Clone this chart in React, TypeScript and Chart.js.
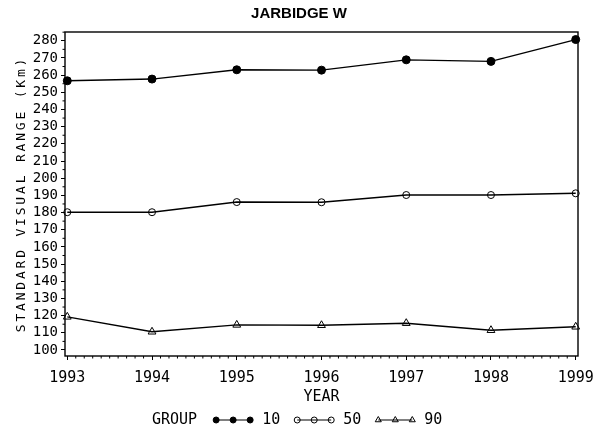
import { useEffect, useRef } from 'react'
import { Chart, registerables } from 'chart.js'
import { drawPoint } from 'chart.js/helpers'

Chart.register(...registerables)

// values
const years = [1993, 1994, 1995, 1996, 1997, 1998, 1999]
const group10 = [256.7, 257.7, 263.1, 262.9, 268.9, 268.0, 280.7]
const group50 = [180.2, 180.2, 186.1, 186.0, 190.2, 190.2, 191.2]
const group90 = [119.3, 110.6, 114.6, 114.4, 115.6, 111.5, 113.5]
const groupNames = ['10', '50', '90']
const yTicks = [100, 110, 120, 130, 140, 150, 160, 170, 180, 190, 200, 210, 220, 230, 240, 250, 260, 270, 280]

const MONO = "'DejaVu Sans Mono', monospace"

// title, minor ticks, frame, rotated y title and the "GROUP" legend row
const sasDecor = {
  id: 'sasDecor',
  afterDraw(chart: any) {
    const { ctx, chartArea: a, scales } = chart
    const xs = scales.x
    const ys = scales.y
    ctx.save()
    ctx.strokeStyle = '#000'
    ctx.fillStyle = '#000'

    ctx.font = "bold 15px 'Liberation Sans', Arial, sans-serif"
    ctx.textAlign = 'center'
    ctx.textBaseline = 'middle'
    ctx.fillText('JARBIDGE W', 299, 14)

    ctx.lineWidth = 1
    ctx.beginPath()
    for (let i = 0; i < years.length - 1; i++) {
      for (let k = 1; k < 10; k++) {
        const px = xs.getPixelForValue(years[i] + k / 10)
        ctx.moveTo(px, a.bottom)
        ctx.lineTo(px, a.bottom + 2.5)
      }
    }
    for (const t of yTicks) {
      if (t + 5 > ys.max) continue
      const py = ys.getPixelForValue(t + 5)
      ctx.moveTo(a.left, py)
      ctx.lineTo(a.left - 2.5, py)
    }
    ctx.stroke()

    ctx.lineWidth = 1.4
    ctx.strokeRect(a.left, a.top, a.right - a.left, a.bottom - a.top)

    // y axis title, spaced out like the SAS font
    ctx.save()
    ctx.translate(22, (a.top + a.bottom) / 2)
    ctx.rotate(-Math.PI / 2)
    ctx.font = `13px ${MONO}`
    ;(ctx as any).letterSpacing = '2.8px'
    ctx.textAlign = 'center'
    ctx.textBaseline = 'middle'
    ctx.fillText('STANDARD VISUAL RANGE (Km)', 0, 0)
    ctx.restore()

    // legend
    const ly = 420
    ctx.font = `15px ${MONO}`
    ctx.textAlign = 'left'
    ctx.textBaseline = 'middle'
    let cx = 152
    ctx.fillText('GROUP', cx, ly)
    cx += ctx.measureText('GROUP').width + 19
    chart.data.datasets.forEach((ds: any) => {
      ctx.lineWidth = 1
      ctx.beginPath()
      ctx.moveTo(cx, ly)
      ctx.lineTo(cx + 34, ly)
      ctx.stroke()
      ctx.fillStyle = ds.pointBackgroundColor
      for (let k = 0; k < 3; k++) {
        drawPoint(ctx, { pointStyle: ds.pointStyle, radius: ds.pointStyle === 'triangle' ? 3.5 : 3, rotation: 0, borderWidth: 1 }, cx + k * 17, ly)
      }
      ctx.fillStyle = '#000'
      cx += 34 + 12
      ctx.fillText(ds.label, cx, ly)
      cx += ctx.measureText(ds.label).width + 17
    })
    ctx.restore()
  },
}

export default function App() {
  const canvasRef = useRef<HTMLCanvasElement | null>(null)
  const chartRef = useRef<Chart | null>(null)

  useEffect(() => {
    if (!canvasRef.current) return
    const ctx = canvasRef.current.getContext('2d')!

    const series = [group10, group50, group90]
    const styles = [
      { pointStyle: 'circle', radius: 4, fill: '#000' },
      { pointStyle: 'circle', radius: 3.5, fill: 'rgba(0,0,0,0)' },
      { pointStyle: 'triangle', radius: 4.5, fill: 'rgba(0,0,0,0)' },
    ]

    chartRef.current = new Chart(ctx, {
      type: 'line',
      data: {
        datasets: series.map((vals, i) => ({
          label: groupNames[i],
          data: years.map((yr, j) => ({ x: yr, y: vals[j] })),
          borderColor: '#000',
          borderWidth: 1.4,
          tension: 0,
          pointStyle: styles[i].pointStyle,
          pointRadius: styles[i].radius,
          pointBackgroundColor: styles[i].fill,
          pointBorderColor: '#000',
          pointBorderWidth: 1,
          clip: false,
        })),
      },
      options: {
        responsive: false,
        animation: false,
        events: [],
        layout: { padding: { left: 0, right: 22, top: 32, bottom: 24 } },
        plugins: {
          legend: { display: false },
          tooltip: { enabled: false },
          title: { display: false },
        },
        scales: {
          x: {
            type: 'linear',
            min: 1992.973,
            max: 1999.027,
            afterBuildTicks: (scale: any) => {
              scale.ticks = years.map((v) => ({ value: v }))
            },
            afterFit: (scale: any) => {
              scale.height = 50
              scale.paddingLeft = 0
              scale.paddingRight = 0
            },
            ticks: {
              color: '#000',
              font: { family: MONO, size: 15 },
              padding: 9,
              maxRotation: 0,
              autoSkip: false,
              callback: (v: any) => String(v),
            },
            grid: { drawOnChartArea: false, tickLength: 4, color: '#000' },
            border: { display: false },
            title: {
              display: true,
              text: 'YEAR',
              color: '#000',
              font: { family: MONO, size: 15 },
              padding: { top: 0, bottom: 0 },
            },
          },
          y: {
            type: 'linear',
            min: 96.5,
            max: 285.1,
            afterBuildTicks: (scale: any) => {
              scale.ticks = yTicks.map((v) => ({ value: v }))
            },
            afterFit: (scale: any) => {
              scale.width = 65
            },
            ticks: {
              color: '#000',
              font: { family: MONO, size: 14 },
              padding: 3,
              autoSkip: false,
              callback: (v: any) => String(v),
            },
            grid: { drawOnChartArea: false, tickLength: 4, color: '#000' },
            border: { display: false },
          },
        },
      },
      plugins: [sasDecor],
    })

    return () => chartRef.current?.destroy()
  }, [])

  return (
    <div style={{ position: 'fixed', left: 0, top: 0, width: 600, height: 430, background: '#fff' }}>
      <canvas ref={canvasRef} width={600} height={430} />
    </div>
  )
}
